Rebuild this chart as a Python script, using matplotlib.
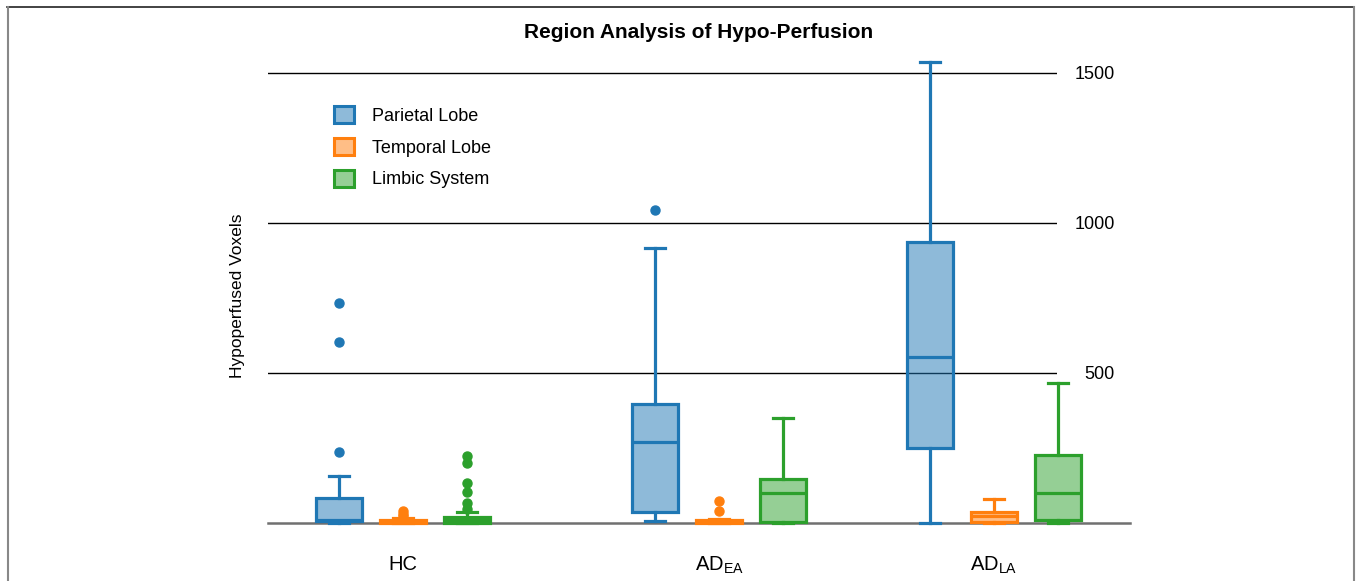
import matplotlib
matplotlib.use("Agg")
import matplotlib.pyplot as plt
from matplotlib.patches import Patch
from matplotlib.lines import Line2D

plt.rcParams['font.family'] = ['Liberation Sans', 'DejaVu Sans']
plt.rcParams['mathtext.fontset'] = 'custom'
plt.rcParams['mathtext.rm'] = 'Liberation Sans'
plt.rcParams['mathtext.it'] = 'Liberation Sans'

# ---- data ----
groups = ['HC', r'AD$_\mathrm{EA}$', r'AD$_\mathrm{LA}$']
regions = ['Parietal Lobe', 'Temporal Lobe', 'Limbic System']

# per region: lists over groups [HC, AD_EA, AD_LA]
parietal_whislo = [0, 4, 0]
parietal_q1 = [5, 34, 250]
parietal_med = [10, 270, 553]
parietal_q3 = [82, 395, 935]
parietal_whishi = [155, 916, 1536]
parietal_fliers = [[235, 602, 732], [1043], []]

temporal_whislo = [0, 0, 0]
temporal_q1 = [0, 0, 3]
temporal_med = [2, 3, 22]
temporal_q3 = [8, 10, 36]
temporal_whishi = [15, 12, 78]
temporal_fliers = [[22, 30, 38], [38, 73], []]

limbic_whislo = [0, 0, 0]
limbic_q1 = [0, 3, 8]
limbic_med = [8, 100, 100]
limbic_q3 = [20, 145, 225]
limbic_whishi = [35, 349, 464]
limbic_fliers = [[45, 65, 102, 132, 200, 222], [], []]

yticks = [500, 1000, 1500]

# ---- layout ----
W, H = 1360, 581
fig = plt.figure(figsize=(W / 100, H / 100), dpi=100)
ax_left, ax_right = 268, 1057
y_lo, y_hi = -20, 1600
bot_px, top_px = 528.5, 43.0
ax = fig.add_axes([ax_left / W, 1 - bot_px / H, (ax_right - ax_left) / W, (bot_px - top_px) / H])
ax.set_xlim(ax_left, ax_right)
ax.set_ylim(y_lo, y_hi)

group_pos = [403, 719, 994]
offsets = [-64, 0, 64]
box_w = 46
colors = ['#1f77b4', '#ff7f0e', '#2ca02c']

series = [
    (parietal_whislo, parietal_q1, parietal_med, parietal_q3, parietal_whishi, parietal_fliers),
    (temporal_whislo, temporal_q1, temporal_med, temporal_q3, temporal_whishi, temporal_fliers),
    (limbic_whislo, limbic_q1, limbic_med, limbic_q3, limbic_whishi, limbic_fliers),
]

# grid lines
for t in yticks:
    ax.axhline(t, color='black', lw=1.0, zorder=0)
ax.axhline(0, xmin=0, xmax=(1130 - ax_left) / (ax_right - ax_left), color='#707070', lw=1.8,
           zorder=0, clip_on=False)

lw = 2.3
for ri, (wl, q1, md, q3, wh, fl) in enumerate(series):
    c = colors[ri]
    stats = []
    for gi in range(len(groups)):
        stats.append(dict(whislo=wl[gi], q1=q1[gi], med=md[gi], q3=q3[gi], whishi=wh[gi],
                          fliers=fl[gi], mean=md[gi]))
    pos = [g + offsets[ri] for g in group_pos]
    art = ax.bxp(stats, positions=pos, widths=box_w, patch_artist=True, showfliers=True,
                 manage_ticks=False,
                 boxprops=dict(facecolor=matplotlib.colors.to_rgba(c, 0.5), edgecolor=c, linewidth=lw),
                 medianprops=dict(color=c, linewidth=lw),
                 whiskerprops=dict(color=c, linewidth=lw),
                 capprops=dict(color=c, linewidth=lw),
                 capwidths=box_w * 0.45,
                 flierprops=dict(marker='o', markerfacecolor=c, markeredgecolor=c, markersize=6.5))
    for k in art:
        for a in art[k]:
            a.set_clip_on(False)

# axes styling
for s in ax.spines.values():
    s.set_visible(False)
ax.set_xticks(group_pos)
ax.set_xticklabels(groups, fontsize=14.5)
ax.tick_params(axis='x', length=0, pad=19)
ax.yaxis.tick_right()
ax.set_yticks(yticks)
ax.set_yticklabels([str(t) for t in yticks], fontsize=13)
ax.tick_params(axis='y', length=0, pad=41.8)
for lab in ax.get_yticklabels():
    lab.set_horizontalalignment('right')
ax.set_facecolor('none')

fig.text(238 / W, 1 - 296 / H, 'Hypoperfused Voxels', rotation=90, ha='center', va='center', fontsize=12.5)
fig.text(699 / W, 1 - 33 / H, 'Region Analysis of Hypo-Perfusion', ha='center', va='center',
         fontsize=15, fontweight='bold')

handles = [Patch(facecolor=matplotlib.colors.to_rgba(c, 0.5), edgecolor=c, linewidth=2.2) for c in colors]
fig.legend(handles, regions, loc='upper left', bbox_to_anchor=(334 / W, 1 - 106 / H),
           frameon=False, fontsize=13, handlelength=1.1, handleheight=1.1,
           handletextpad=1.0, labelspacing=0.72, borderpad=0, borderaxespad=0)

# figure border (top, left, right)
fig.add_artist(Line2D([7 / W, 1354 / W], [1 - 7 / H, 1 - 7 / H], color='#222222', lw=1.2))
fig.add_artist(Line2D([7.5 / W, 7.5 / W], [0, 1 - 7 / H], color='#888888', lw=1.5))
fig.add_artist(Line2D([1354 / W, 1354 / W], [0, 1 - 7 / H], color='#888888', lw=1.5))

fig.savefig('out.png', dpi=100)
